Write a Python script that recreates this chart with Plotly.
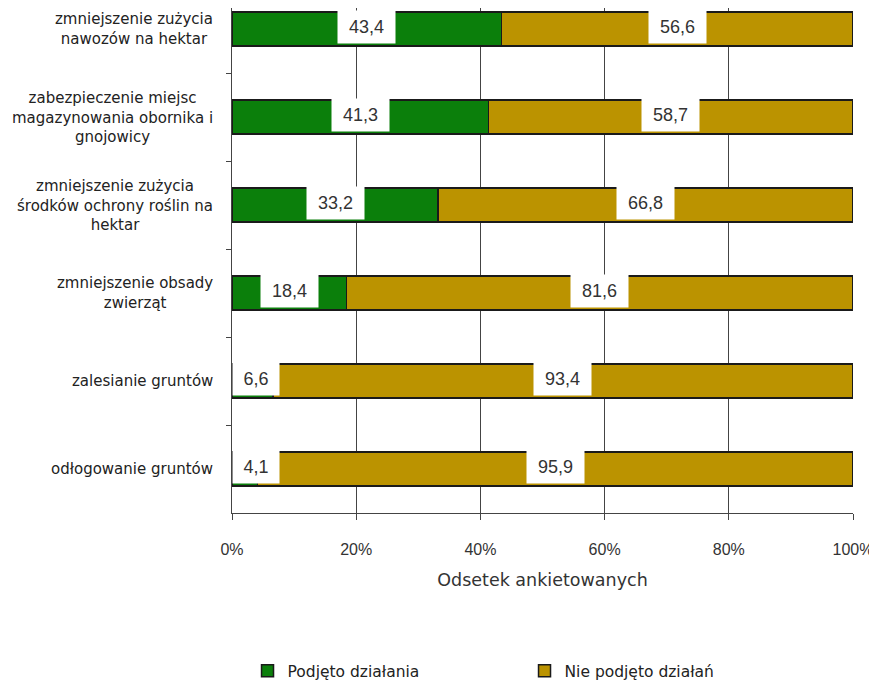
import plotly.graph_objects as go

categories = [
    "zmniejszenie zużycia<br>nawozów na hektar",
    "zabezpieczenie miejsc<br>magazynowania obornika i<br>gnojowicy",
    "zmniejszenie zużycia<br>środków ochrony roślin na<br>hektar",
    "zmniejszenie obsady<br>zwierząt",
    "zalesianie gruntów",
    "odłogowanie gruntów",
]
podjeto = [43.4, 41.3, 33.2, 18.4, 6.6, 4.1]
nie_podjeto = [56.6, 58.7, 66.8, 81.6, 93.4, 95.9]
x_ticks = [0, 20, 40, 60, 80, 100]
x_ticklabels = ["0%", "20%", "40%", "60%", "80%", "100%"]

FONT = "Liberation Sans, Arial, sans-serif"
TFONT = "DejaVu Sans, sans-serif"
GREEN = "#0b7f0b"
GOLD = "#bb9300"

fig = go.Figure()
fig.add_trace(go.Bar(
    y=categories, x=podjeto, orientation="h", name="Podjęto działania",
    marker=dict(color=GREEN, line=dict(color="#1a1a1a", width=1.5)),
    width=0.386,
))
fig.add_trace(go.Bar(
    y=categories, x=nie_podjeto, orientation="h", name="Nie podjęto działań",
    marker=dict(color=GOLD, line=dict(color="#1a1a1a", width=1.5)),
    width=0.386,
))

def fmt(v):
    return f"{v:.1f}".replace(".", ",")

annotations = []
for cat, a, b in zip(categories, podjeto, nie_podjeto):
    for xc, v in ((a / 2, a), (a + b / 2, b)):
        small = v < 10
        annotations.append(dict(
            x=0 if small else xc, xanchor="left" if small else "center",
            y=cat, xref="x", yref="y", text=fmt(v), showarrow=False,
            bgcolor="white", width=44 if small else 55, height=30, yshift=2,
            font=dict(family=FONT, size=18, color="#333333"),
        ))
    annotations.append(dict(
        x=0, y=cat, xref="paper", yref="y", text=cat, showarrow=False,
        xanchor="right", align="center", xshift=-17,
        font=dict(family=TFONT, size=15, color="#222222"),
    ))

fig.update_layout(
    barmode="stack",
    width=869, height=676,
    margin=dict(l=224, r=24, t=0, b=171),
    paper_bgcolor="white", plot_bgcolor="white",
    font=dict(family=FONT, color="#333333"),
    annotations=annotations,
    showlegend=True,
    legend=dict(
        orientation="h", x=0.025, xanchor="left",
        yref="container", y=0.019, yanchor="middle",
        font=dict(family=TFONT, size=15.5, color="#222222"),
        entrywidth=232, entrywidthmode="pixels", traceorder="normal",
    ),
    xaxis=dict(
        range=[0, 100], tickvals=x_ticks, ticktext=x_ticklabels,
        showgrid=True, gridcolor="#444444", gridwidth=1,
        showline=True, linecolor="#444444", linewidth=1,
        ticks="outside", ticklen=6, tickcolor="#444444",
        zeroline=False, ticklabelstandoff=16,
        tickfont=dict(family=FONT, size=16, color="#333333"),
        title=dict(text="Odsetek ankietowanych", standoff=16,
                   font=dict(family=TFONT, size=17.5, color="#333333")),
    ),
    yaxis=dict(
        type="category", categoryorder="array", categoryarray=categories,
        range=[5.5, -0.239], showticklabels=False, showgrid=False,
        showline=True, linecolor="#444444", linewidth=1,
        ticks="outside", ticklen=5, tickcolor="#444444", tickson="boundaries",
        zeroline=False,
    ),
)

fig.write_html("out.html")
